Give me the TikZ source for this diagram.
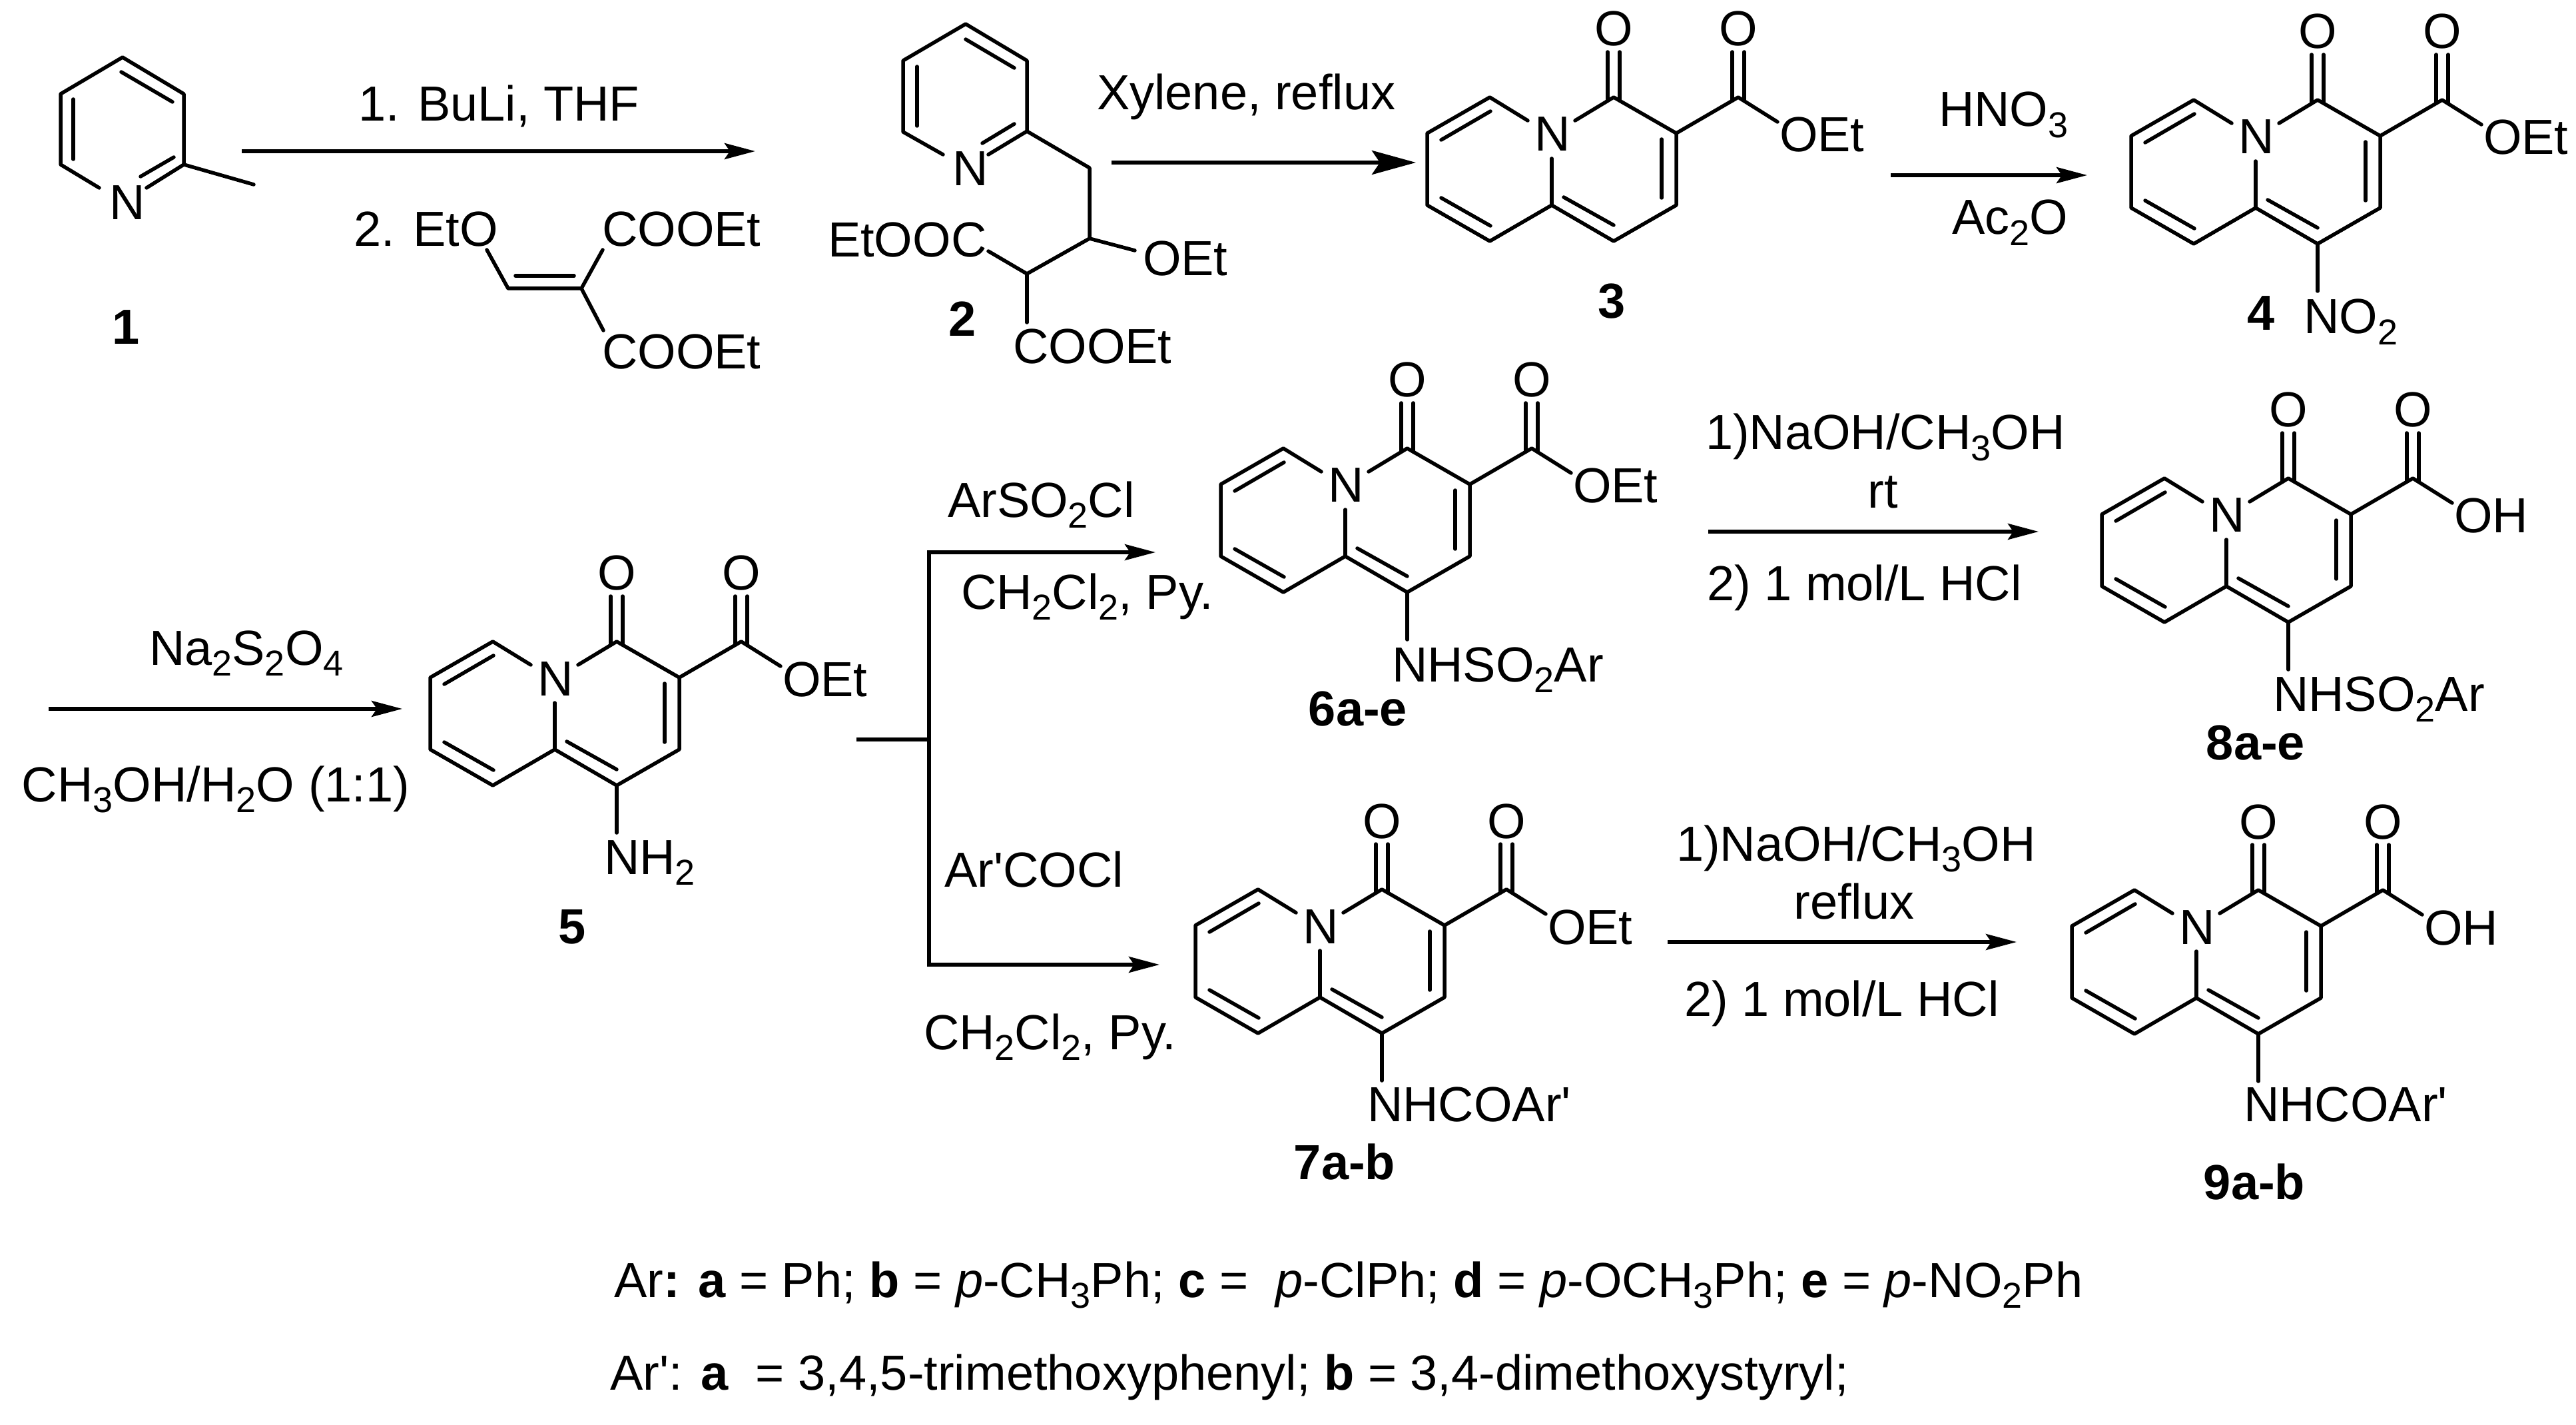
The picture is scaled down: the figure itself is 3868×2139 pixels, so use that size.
\documentclass[tikz,border=0pt]{standalone}
\usepackage{fontspec}
\usetikzlibrary{arrows.meta}
\newfontfamily\chemfont{Liberation Sans}
\newcommand\chsub[1]{\raisebox{-0.22em}{\fontsize{13.5}{14}\selectfont #1}}
\tikzset{
  bond/.style={line width=1.375pt,line cap=round,line join=round},
  rxnarrow/.style={line width=1.375pt,line join=miter,-{Stealth[length=11.5pt,width=6pt,inset=2pt]}},
  bigarrow/.style={line width=1.375pt,-{Stealth[length=16.5pt,width=9pt,inset=3pt]}},
  txt/.style={font=\chemfont\fontsize{18.5}{20}\selectfont,inner sep=0pt,outer sep=0pt},
  lft/.style={txt,anchor=base west,xshift=-1pt},
  mid/.style={txt,anchor=base},
}
\newcommand\tx[4]{\node[lft] (#1) at (#2,-#3) {#4};}
\newcommand\cx[4]{\node[mid] (#1) at (#2,-#3) {#4};}
% #1 prefix, #2 x of N, #3 y of N, #4 text at the ester end
\newcommand\quinol[4]{%
\begin{scope}[shift={(#2,-#3)}]
  \coordinate (#1top) at (-93,54);
  \coordinate (#1ul) at (-187,0);
  \coordinate (#1ll) at (-187,-108);
  \coordinate (#1bot) at (-93,-162);
  \coordinate (#1j) at (0,-108);
  \coordinate (#1jn) at (0,-38);
  \coordinate (#1nl) at (-36,19);
  \coordinate (#1nr) at (35,19);
  \coordinate (#1co) at (93,54);
  \coordinate (#1c3) at (187,0);
  \coordinate (#1c4) at (187,-108);
  \coordinate (#1cb) at (93,-162);
  \coordinate (#1cs) at (93,-233);
  \coordinate (#1es) at (280,54);
  \coordinate (#1eo) at (339,17);
  \node[mid] (#1N) at (1,-27) {N};
  \node[mid] (#1Oa) at (93,131) {O};
  \node[mid] (#1Ob) at (280,131) {O};
  \node[txt,anchor=base west] (#1tail) at (342,-28) {#4};
  \draw[bond] (#1nl) -- (#1top) -- (#1ul) -- (#1ll) -- (#1bot) -- (#1j) -- (#1cb) -- (#1c4) -- (#1c3) -- (#1co) -- (#1nr);
  \draw[bond] (#1jn) -- (#1j);
  \draw[bond] (#1c3) -- (#1es) -- (#1eo);
  \draw[bond] (-92,33) -- (-166,-10);
  \draw[bond] (-166,-97) -- (-92,-139);
  \draw[bond] (18,-96) -- (93,-138);
  \draw[bond] (165,-9) -- (165,-97);
  \draw[bond] (84,49) -- (84,122);
  \draw[bond] (102,49) -- (102,122);
  \draw[bond] (271,49) -- (271,122);
  \draw[bond] (289,49) -- (289,122);
\end{scope}}
\begin{document}
\begin{tikzpicture}[x=0.25pt,y=0.25pt]
\useasboundingbox (0,0) rectangle (3868,-2139);
\fill[white] (0,0) rectangle (3868,-2139);

% compound 1
\coordinate (atop) at (184,-86);
\coordinate (aul) at (91,-141);
\coordinate (all) at (91,-247);
\coordinate (anl) at (149,-282);
\coordinate (anr) at (220,-282);
\coordinate (ac2) at (276,-247);
\coordinate (aur) at (276,-141);
\coordinate (ame) at (381,-277);
\tx{aN}{169}{330}{N}
\draw[bond] (anl) -- (all) -- (aul) -- (atop) -- (aur) -- (ac2) -- (anr);
\draw[bond] (ac2) -- (ame);
\draw[bond] (110,-149) -- (110,-239);
\draw[bond] (182,-108) -- (259,-153);
\draw[bond] (261,-236) -- (211,-265);
\cx{lab1}{189}{517}{\textbf{1}}

% first reagents
\tx{r1a}{542}{182}{1. BuLi, THF}
\tx{r1b}{535}{370}{2. EtO}
\tx{r1c}{908}{370}{COOEt}
\tx{r1d}{908}{554}{COOEt}
\coordinate (va) at (763,-433);
\coordinate (vb) at (873,-433);
\coordinate (voa) at (731,-375);
\coordinate (vob) at (905,-375);
\coordinate (voc) at (906,-496);
\draw[bond] (voa) -- (va) -- (vb) -- (vob);
\draw[bond] (vb) -- (voc);
\draw[bond] (774,-414) -- (862,-414);
\coordinate (s1) at (363,-227);
\coordinate (e1) at (1134,-227);
\draw[rxnarrow] (s1) -- (e1);

% compound 2
\coordinate (btop) at (1450,-36);
\coordinate (bul) at (1356,-91);
\coordinate (bll) at (1356,-198);
\coordinate (bnl) at (1416,-232);
\coordinate (bnr) at (1484,-232);
\coordinate (bc2) at (1542,-197);
\coordinate (bur) at (1542,-91);
\coordinate (bch2) at (1636,-252);
\coordinate (bch) at (1636,-358);
\coordinate (bcc) at (1542,-411);
\coordinate (boe) at (1704,-376);
\coordinate (bee) at (1484,-377);
\coordinate (bcd) at (1542,-484);
\tx{bN}{1434}{279}{N}
\tx{bEt}{1247}{386}{EtOOC}
\tx{bOEt}{1720}{414}{OEt}
\tx{bCOO}{1525}{546}{COOEt}
\draw[bond] (bnl) -- (bll) -- (bul) -- (btop) -- (bur) -- (bc2) -- (bnr);
\draw[bond] (bc2) -- (bch2) -- (bch) -- (bcc) -- (bee);
\draw[bond] (bch) -- (boe);
\draw[bond] (bcc) -- (bcd);
\draw[bond] (1377,-100) -- (1377,-189);
\draw[bond] (1450,-59) -- (1523,-102);
\draw[bond] (1523,-186) -- (1475,-215);
\cx{lab2}{1445}{505}{\textbf{2}}

\tx{r2}{1651}{165}{Xylene, reflux}
\coordinate (s2) at (1669,-244);
\coordinate (e2) at (2126,-244);
\draw[bigarrow] (s2) -- (e2);

\quinol{c}{2330}{200}{OEt}
\cx{lab3}{2420}{478}{\textbf{3}}

% to 4
\tx{r3a}{2915}{190}{HNO\chsub{3}}
\tx{r3b}{2935}{352}{Ac\chsub{2}O}
\coordinate (s3) at (2839,-263);
\coordinate (e3) at (3134,-263);
\draw[rxnarrow] (s3) -- (e3);
\quinol{d}{3387}{204}{OEt}
\draw[bond] (dcb) -- (dcs);
\tx{dNO}{3463}{501}{NO\chsub{2}}
\cx{lab4}{3395}{496}{\textbf{4}}

% to 5
\tx{r4a}{228}{998}{Na\chsub{2}S\chsub{2}O\chsub{4}}
\tx{r4b}{37}{1203}{CH\chsub{3}OH/H\chsub{2}O (1:1)}
\coordinate (s4) at (73,-1064);
\coordinate (e4) at (604,-1064);
\draw[rxnarrow] (s4) -- (e4);
\quinol{f}{833}{1017}{OEt}
\draw[bond] (fcb) -- (fcs);
\tx{fNH}{911}{1312}{NH\chsub{2}}
\cx{lab5}{859}{1416}{\textbf{5}}

% branch
\coordinate (br0) at (1286,-1110);
\coordinate (brj) at (1395,-1110);
\coordinate (tip6) at (1735,-829);
\coordinate (tip7) at (1741,-1448);
\draw[bond,line cap=butt] (br0) -- (brj);
\draw[rxnarrow] (brj) |- (tip6);
\draw[rxnarrow] (brj) |- (tip7);
\tx{r5a}{1427}{776}{ArSO\chsub{2}Cl}
\tx{r5b}{1447}{914}{CH\chsub{2}Cl\chsub{2}, Py.}
\tx{r6a}{1422}{1331}{Ar'COCl}
\tx{r6b}{1391}{1575}{CH\chsub{2}Cl\chsub{2}, Py.}

% 6
\quinol{g}{2020}{727}{OEt}
\draw[bond] (gcb) -- (gcs);
\tx{gS}{2094}{1023}{NHSO\chsub{2}Ar}
\cx{lab6}{2039}{1089}{\textbf{6a-e}}

% 7
\quinol{h}{1982}{1389}{OEt}
\draw[bond] (hcb) -- (hcs);
\tx{hS}{2057}{1683}{NHCOAr'}
\cx{lab7}{2019}{1770}{\textbf{7a-b}}

% to 8
\tx{r7a}{2565}{675}{1)NaOH/CH\chsub{3}OH}
\cx{r7b}{2827}{762}{rt}
\tx{r7c}{2567}{902}{2) 1 mol/L HCl}
\coordinate (s7) at (2565,-798);
\coordinate (e7) at (3061,-798);
\draw[rxnarrow] (s7) -- (e7);
\quinol{i}{3343}{772}{OH}
\draw[bond] (icb) -- (ics);
\tx{iS}{3417}{1067}{NHSO\chsub{2}Ar}
\cx{lab8}{3387}{1140}{\textbf{8a-e}}

% to 9
\tx{r8a}{2521}{1292}{1)NaOH/CH\chsub{3}OH}
\cx{r8b}{2784}{1379}{reflux}
\tx{r8c}{2533}{1525}{2) 1 mol/L HCl}
\coordinate (s8) at (2504,-1414);
\coordinate (e8) at (3028,-1414);
\draw[rxnarrow] (s8) -- (e8);
\quinol{j}{3298}{1390}{OH}
\draw[bond] (jcb) -- (jcs);
\tx{jS}{3373}{1683}{NHCOAr'}
\cx{lab9}{3385}{1800}{\textbf{9a-b}}

% footnotes
\tx{note1}{926}{1947}{Ar\textbf{:} \textbf{a} = Ph; \textbf{b} = \textit{p}-CH\chsub{3}Ph; \textbf{c} =\ \ \textit{p}-ClPh; \textbf{d} = \textit{p}-OCH\chsub{3}Ph; \textbf{e} = \textit{p}-NO\chsub{2}Ph}
\tx{note2}{920}{2086}{Ar': \textbf{a}\ \ = 3,4,5-trimethoxyphenyl; \textbf{b} = 3,4-dimethoxystyryl;}
\end{tikzpicture}
\end{document}
